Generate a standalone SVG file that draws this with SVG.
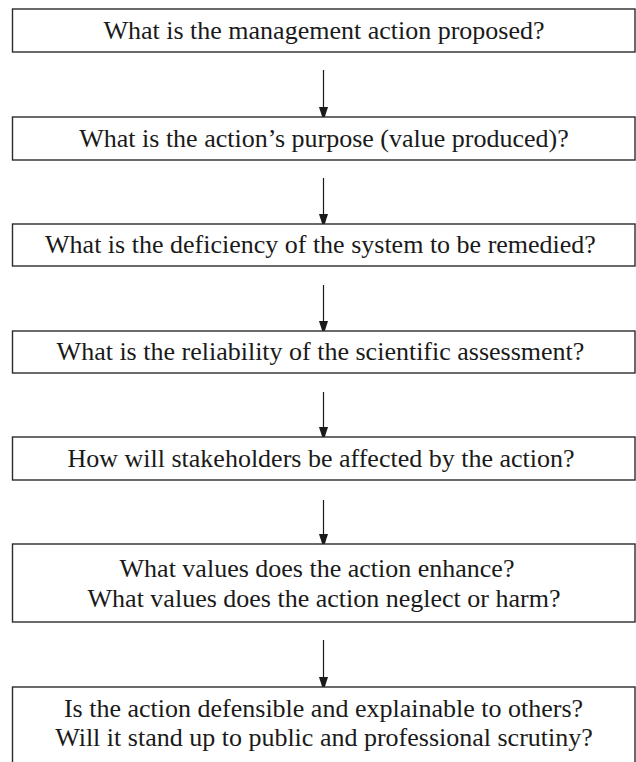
<svg xmlns="http://www.w3.org/2000/svg" width="636" height="762" viewBox="0 0 636 762">
  <defs>
    <marker id="head" viewBox="0 0 10 16" refX="10" refY="8" markerWidth="10" markerHeight="16" markerUnits="userSpaceOnUse" orient="auto">
      <path d="M0,3.5 L14,8 L0,12.5 Z" fill="#1a1a1a"/>
    </marker>
  </defs>
  <rect width="636" height="762" fill="#ffffff"/>

  <!-- vertical flow arrows between consecutive questions -->
  <g id="connectors" stroke="#1a1a1a" stroke-width="1.2" fill="none" marker-end="url(#head)">
    <line x1="323.5" y1="70" x2="323.5" y2="117"/>
    <line x1="323.5" y1="178" x2="323.5" y2="224"/>
    <line x1="323.5" y1="285" x2="323.5" y2="331"/>
    <line x1="323.5" y1="392" x2="323.5" y2="437"/>
    <line x1="323.5" y1="500" x2="323.5" y2="544"/>
    <line x1="323.5" y1="640" x2="323.5" y2="687"/>
  </g>

  <!-- question boxes -->
  <g id="nodes" fill="#1a1a1a">
    <g id="node-action">
      <rect x="12.5" y="9" width="622.5" height="43" fill="#ffffff" stroke="#2b2b2b" stroke-width="1.4"/>
      <text font-family="Liberation Serif" font-size="26" text-anchor="middle" x="324" y="38.5">What is the management action proposed?</text>
    </g>

    <g id="node-purpose">
      <rect x="12.5" y="117" width="622.5" height="43" fill="#ffffff" stroke="#2b2b2b" stroke-width="1.4"/>
      <text font-family="Liberation Serif" font-size="26" text-anchor="middle" x="324" y="146.5">What is the action’s purpose (value produced)?</text>
    </g>

    <g id="node-deficiency">
      <rect x="12.5" y="224" width="622.5" height="42" fill="#ffffff" stroke="#2b2b2b" stroke-width="1.4"/>
      <text font-family="Liberation Serif" font-size="26" text-anchor="middle" x="320.5" y="253">What is the deficiency of the system to be remedied?</text>
    </g>

    <g id="node-reliability">
      <rect x="12.5" y="331" width="622.5" height="42" fill="#ffffff" stroke="#2b2b2b" stroke-width="1.4"/>
      <text font-family="Liberation Serif" font-size="26" text-anchor="middle" x="320.5" y="360">What is the reliability of the scientific assessment?</text>
    </g>

    <g id="node-stakeholders">
      <rect x="12.5" y="437" width="622.5" height="43" fill="#ffffff" stroke="#2b2b2b" stroke-width="1.4"/>
      <text font-family="Liberation Serif" font-size="26" text-anchor="middle" x="321" y="466.5">How will stakeholders be affected by the action?</text>
    </g>

    <g id="node-values">
      <rect x="12.5" y="544" width="622.5" height="78" fill="#ffffff" stroke="#2b2b2b" stroke-width="1.4"/>
      <text font-family="Liberation Serif" font-size="26" text-anchor="middle" x="317" y="577">What values does the action enhance?</text>
      <text font-family="Liberation Serif" font-size="26" text-anchor="middle" x="324" y="607">What values does the action neglect or harm?</text>
    </g>

    <g id="node-defensible">
      <rect x="12.5" y="687" width="622.5" height="90" fill="#ffffff" stroke="#2b2b2b" stroke-width="1.4"/>
      <text font-family="Liberation Serif" font-size="26" text-anchor="middle" x="323.5" y="717">Is the action defensible and explainable to others?</text>
      <text font-family="Liberation Serif" font-size="26" text-anchor="middle" x="324" y="746">Will it stand up to public and professional scrutiny?</text>
    </g>
  </g>
</svg>
